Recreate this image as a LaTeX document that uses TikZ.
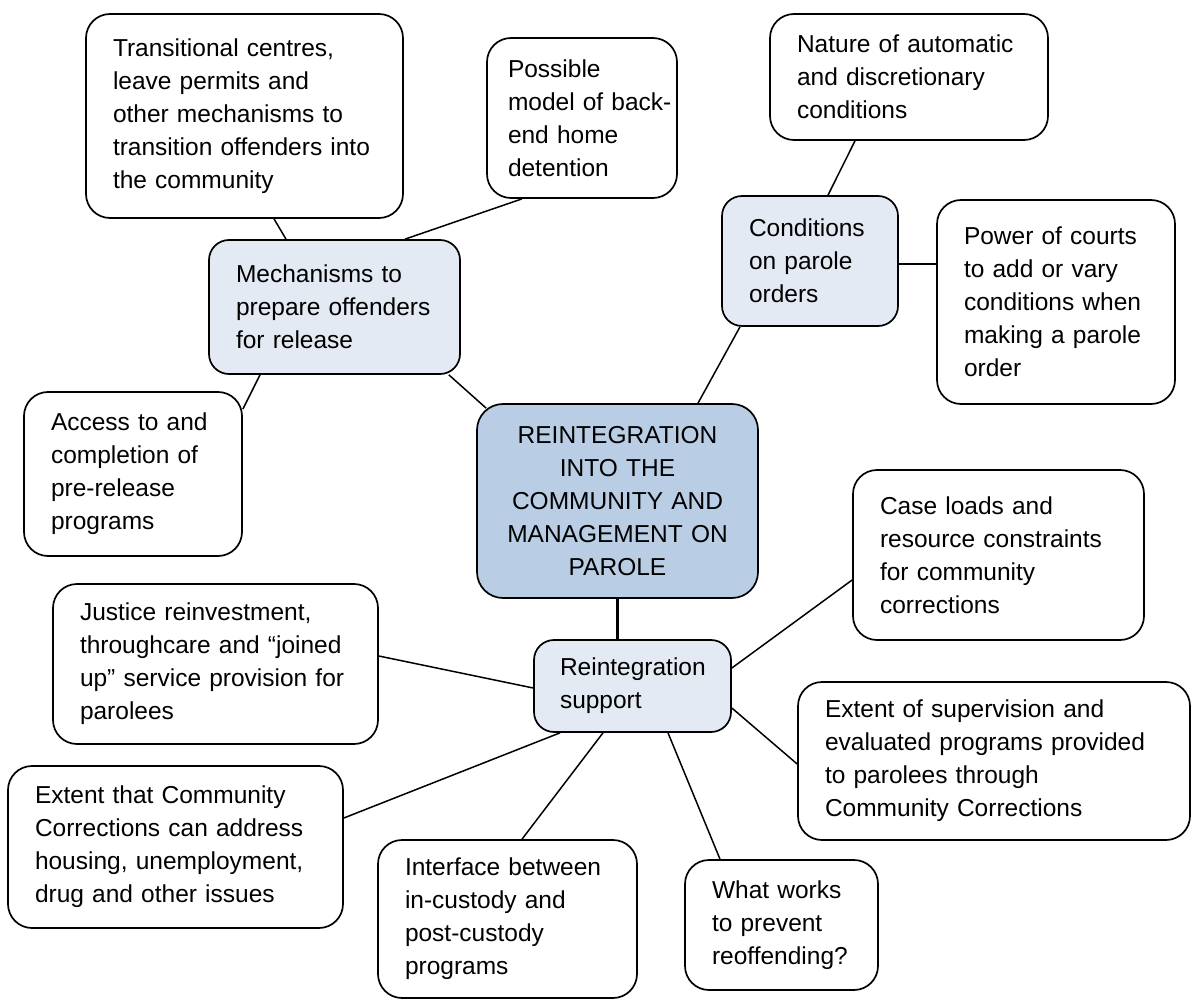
\documentclass[tikz,border=0pt]{standalone}
\usepackage{fontspec}
\setmainfont{Liberation Sans}
\definecolor{hubfill}{HTML}{B9CDE5}
\definecolor{subfill}{HTML}{E3EAF4}
\begin{document}
\begin{tikzpicture}[x=1pt,y=-1pt,
  every node/.style={font=\fontsize{24.5}{33}\selectfont},
  box/.style={draw=black, fill=white, line width=1.7pt, rounded corners=24pt,
    align=left, inner xsep=27pt, inner ysep=0pt},
  subbox/.style={box, fill=subfill, rounded corners=20pt},
  hubbox/.style={box, fill=hubfill, align=center, rounded corners=26pt},
  link/.style={line width=1.5pt},
  thicklink/.style={line width=2.8pt}]
\useasboundingbox (0,0) rectangle (1192,1000);
\fill[white] (0,0) rectangle (1192,1000);

\node[box, text width=263pt, minimum height=204pt] (n1) at (244.5,116)
  {Transitional centres,\\leave permits and\\other mechanisms to\\transition offenders into\\the community};
\node[box, text width=148pt, inner xsep=21pt, minimum height=160pt] (n2) at (582,118)
  {Possible\\\mbox{model of back-}\\end home\\detention};
\node[box, text width=224pt, minimum height=126pt] (n3) at (909,77)
  {Nature of automatic\\and discretionary\\conditions};
\node[subbox, text width=122pt, minimum height=130pt] (n4) at (810,261)
  {Conditions\\on parole\\orders};
\node[box, text width=184pt, minimum height=204pt] (n5) at (1056,302)
  {Power of courts\\to add or vary\\conditions when\\making a parole\\order};
\node[subbox, text width=197pt, minimum height=134pt] (n6) at (334.5,307)
  {Mechanisms to\\prepare offenders\\for release};
\node[box, text width=164pt, minimum height=164pt] (n7) at (133,474)
  {Access to and\\completion of\\pre-release\\programs};
\node[hubbox, text width=227pt, minimum height=194pt] (n8) at (617.5,501)
  {REINTEGRATION\\INTO THE\\COMMUNITY AND\\MANAGEMENT ON\\PAROLE};
\node[box, text width=237pt, minimum height=170pt] (n9) at (998.5,555)
  {Case loads and\\resource constraints\\for community\\corrections};
\node[box, text width=271pt, minimum height=160pt] (n10) at (215.5,664)
  {Justice reinvestment,\\throughcare and “joined\\up” service provision for\\parolees};
\node[subbox, text width=145pt, minimum height=92pt, inner xsep=26pt] (n11) at (632.5,686)
  {Reintegration\\support};
\node[box, text width=338pt, minimum height=158pt] (n12) at (994,761)
  {Extent of supervision and\\evaluated programs provided\\to parolees through\\Community Corrections};
\node[box, text width=281pt, minimum height=162pt] (n13) at (175.5,847)
  {Extent that Community\\Corrections can address\\housing, unemployment,\\drug and other issues};
\node[box, text width=205pt, minimum height=158pt] (n14) at (507.5,919)
  {Interface between\\in-custody and\\post-custody\\programs};
\node[box, text width=139pt, minimum height=130pt] (n15) at (781.5,925)
  {What works\\to prevent\\reoffending?};

\draw[link] ([xshift=29.5pt]n1.south) -- ([xshift=-48.5pt]n6.north);
\draw[link] ([xshift=-60pt]n2.south) -- ([xshift=70.5pt]n6.north);
\draw[link] ([xshift=-54pt]n3.south) -- ([xshift=18pt]n4.north);
\draw[thicklink] ([yshift=-3pt]n4.east) -- ([yshift=-3pt]n4.east -| n5.west);
\draw[link] ([yshift=-18pt]n7.north east) -- ([xshift=-74.5pt]n6.south);
\draw[link] ([xshift=-12pt]n6.south east) -- ([xshift=10pt,yshift=-5pt]n8.north west);
\draw[link] ([xshift=-70pt]n4.south) -- ([xshift=80.5pt]n8.north);
\draw[thicklink] (n8.south) -- (n8.south |- n11.north);
\draw[link] ([yshift=8pt]n10.east) -- ([yshift=-2pt]n11.west);
\draw[link] ([yshift=-25pt]n9.west) -- ([yshift=18pt]n11.east);
\draw[link] ([yshift=-3pt]n12.west) -- ([yshift=-22pt]n11.east);
\draw[link] ([yshift=29pt]n13.east) -- ([xshift=-72.5pt]n11.south);
\draw[link] ([xshift=14.5pt]n14.north) -- ([xshift=-29.5pt]n11.south);
\draw[link] ([xshift=-61.5pt]n15.north) -- ([xshift=35.5pt]n11.south);
\end{tikzpicture}
\end{document}
